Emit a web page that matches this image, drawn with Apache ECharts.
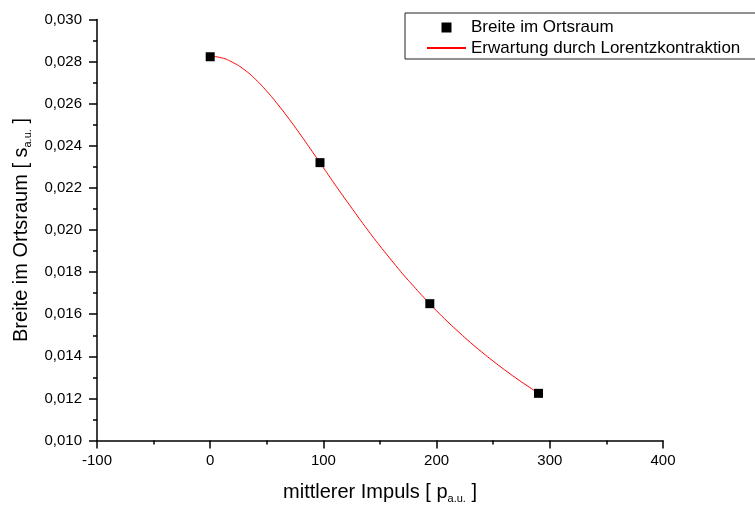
<!DOCTYPE html>
<html>
<head>
<meta charset="utf-8">
<script src="https://cdn.jsdelivr.net/npm/echarts@6/dist/echarts.min.js"></script>
<style>
  html, body { margin: 0; padding: 0; background: #fff; }
  #chart { width: 755px; height: 507px; }
</style>
</head>
<body>
<div id="chart"></div>
<script>
// Measured widths in position space vs. mean momentum
const pulse = [0, 97, 194, 290];
const breite = [0.02823, 0.0232, 0.0165, 0.01224];

// Expected width from Lorentz contraction, sampled along the curve
const curvePulse = [0, 10, 20, 30, 40, 50, 60, 70, 80, 90, 100, 110, 120, 130, 140,
                    150, 160, 170, 180, 190, 200, 210, 220, 230, 240, 250, 260, 270, 280, 290];
const curveBreite = [0.02825, 0.02818, 0.02796, 0.02762, 0.02716, 0.02659, 0.02595, 0.02525,
                     0.02451, 0.02374, 0.02296, 0.02218, 0.02142, 0.02067, 0.01994, 0.01924,
                     0.01857, 0.01792, 0.01731, 0.01672, 0.01616, 0.01563, 0.01513, 0.01465,
                     0.01420, 0.01377, 0.01336, 0.01297, 0.01260, 0.01225];

const xTicks = { min: -100, max: 400, step: 100 };
const yTicks = { min: 0.010, max: 0.030, step: 0.002 };

const seriesNames = ['Breite im Ortsraum', 'Erwartung durch Lorentzkontraktion'];

const FONT = '"Liberation Sans", Arial, Helvetica, sans-serif';

const chart = echarts.init(document.getElementById('chart'), null, { renderer: 'canvas' });

const nameRich = {
  n: { fontSize: 20, lineHeight: 24, color: '#000', fontFamily: FONT },
  s: { fontSize: 11, lineHeight: 4, verticalAlign: 'bottom', color: '#000', fontFamily: FONT }
};

const axisCommon = {
  axisLine: { show: true, onZero: false, lineStyle: { color: '#000', width: 1.5 } },
  axisTick: { show: true, inside: false, length: 8, lineStyle: { color: '#000', width: 1.5 } },
  minorTick: { show: true, splitNumber: 2, length: 4, lineStyle: { color: '#000', width: 1.5 } },
  splitLine: { show: false },
  minorSplitLine: { show: false }
};

chart.setOption({
  backgroundColor: '#ffffff',
  animation: false,
  textStyle: { fontFamily: FONT },
  grid: { left: 97, right: 92, top: 19.5, bottom: 66.5, containLabel: false, outerBoundsMode: 'none' },
  legend: {
    orient: 'vertical',
    left: 405,
    top: 13,
    padding: [4.5, 80, 1, 21],
    itemWidth: 39,
    itemHeight: 10,
    itemGap: 0.5,
    borderColor: '#222',
    borderWidth: 1,
    borderRadius: 0,
    selectedMode: false,
    textStyle: { fontSize: 17, lineHeight: 20, color: '#000', fontFamily: FONT },
    data: [
      // small square centred in the icon slot
      { name: seriesNames[0], icon: 'path://M0,0M39,10M14.5,0h10v10h-10z', itemStyle: { color: '#000', opacity: 1 } },
      // plain line, no marker
      { name: seriesNames[1], itemStyle: { color: 'rgba(0,0,0,0)', borderWidth: 0, opacity: 0 } }
    ]
  },
  xAxis: Object.assign({
    type: 'value',
    min: xTicks.min,
    max: xTicks.max,
    interval: xTicks.step,
    name: '{n|mittlerer Impuls [ p}{s|a.u.}{n| ]}',
    nameLocation: 'middle',
    nameGap: 40,
    nameTextStyle: { rich: nameRich },
    axisLabel: { margin: 13, fontSize: 15, color: '#000', fontFamily: FONT }
  }, axisCommon),
  yAxis: Object.assign({
    type: 'value',
    min: yTicks.min,
    max: yTicks.max,
    interval: yTicks.step,
    name: '{n|Breite im Ortsraum [ s}{s|a.u.}{n| ]}',
    nameLocation: 'middle',
    nameGap: 64,
    nameTextStyle: { rich: nameRich },
    axisLabel: {
      margin: 15,
      fontSize: 15,
      color: '#000',
      fontFamily: FONT,
      formatter: v => v.toFixed(3).replace('.', ',')
    }
  }, axisCommon),
  series: [
    {
      name: seriesNames[1],
      type: 'line',
      data: curvePulse.map((p, i) => [p, curveBreite[i]]),
      smooth: true,
      symbol: 'none',
      lineStyle: { color: '#ff0000', width: 1 },
      itemStyle: { color: '#ff0000' },
      z: 2
    },
    {
      name: seriesNames[0],
      type: 'scatter',
      data: pulse.map((p, i) => [p, breite[i]]),
      symbol: 'rect',
      symbolSize: 9,
      itemStyle: { color: '#000', opacity: 1 },
      z: 3
    }
  ]
});
</script>
</body>
</html>
